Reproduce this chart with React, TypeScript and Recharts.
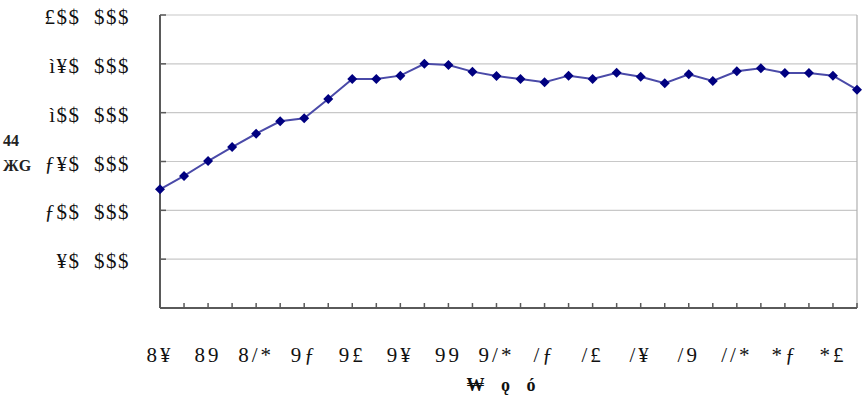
import { LineChart, Line, XAxis, YAxis, CartesianGrid, ReferenceLine } from 'recharts'

// 30 points, every other one labelled on the x axis
const xLabels = ['8¥', '89', '8/*', '9ƒ', '9£', '9¥', '99', '9/*', '/ƒ', '/£', '/¥', '/9', '//*', '*ƒ', '*£']
const values = [
  121500, 135200, 150500, 164800, 178500, 191200, 194200, 214000, 234500, 234500,
  237900, 250100, 248800, 242000, 237500, 234500, 231100, 237900, 234500, 240900,
  236800, 230100, 239300, 232400, 242400, 245400, 240600, 240600, 237900, 223500,
]
const yTicks = [0, 50000, 100000, 150000, 200000, 250000, 300000]
const yLabels = ['', '¥$  $$$', 'ƒ$$  $$$', 'ƒ¥$  $$$', 'ì$$  $$$', 'ì¥$  $$$', '£$$  $$$']
const yTitle = ['44', 'ЖG']
const xTitle = '₩ ǫ ó'

const data = values.map((v, i) => ({ slot: i, value: v }))
const slots = values.map((_, i) => i)

const FONT = '"Liberation Serif", "Times New Roman", serif'
const AXIS = '#5a5a5a'

const XTick = (props: any) => {
  const { x, y, payload } = props
  const i = payload.value as number
  const label = i % 2 === 0 ? xLabels[i / 2] : ''
  return (
    <g>
      <line x1={x} y1={y} x2={x} y2={y - 5} stroke={AXIS} strokeWidth={1.5} />
      {label && (
        <text x={x} y={y + 54} textAnchor="middle" fontFamily={FONT} fontSize={21} letterSpacing={3} fill="#111">
          {label}
        </text>
      )}
    </g>
  )
}

const YTick = (props: any) => {
  const { x, y, payload } = props
  const idx = yTicks.indexOf(payload.value)
  return (
    <g>
      <line x1={x} y1={y} x2={x + 6} y2={y} stroke={AXIS} strokeWidth={1.5} />
      <text x={x - 30} y={y + 9} textAnchor="end" fontFamily={FONT} fontSize={21} letterSpacing={1.5} fill="#111" style={{ whiteSpace: 'pre' }}>
        {yLabels[idx]}
      </text>
    </g>
  )
}

const Diamond = (props: any) => {
  const { cx, cy } = props
  const r = 5
  return <polygon points={`${cx},${cy - r} ${cx + r},${cy} ${cx},${cy + r} ${cx - r},${cy}`} fill="#000080" />
}

export default function App() {
  return (
    <div style={{ position: 'absolute', left: 0, top: 0, width: 866, height: 417, background: '#fff' }}>
      <LineChart width={866} height={417} data={data} margin={{ top: 15, right: 9, left: 0, bottom: 0 }}>
        <CartesianGrid vertical={false} stroke="#c8c8c8" strokeWidth={1.2} />
        <ReferenceLine x={slots[slots.length - 1]} stroke="#b0b0b0" strokeWidth={1.2} />
        <XAxis
          dataKey="slot"
          type="number"
          domain={[0, slots.length - 1]}
          ticks={slots}
          interval={0}
          height={109}
          tickSize={0}
          tickMargin={0}
          tick={<XTick />}
          axisLine={{ stroke: AXIS, strokeWidth: 2 }}
          label={{
            content: () => (
              <text x={504} y={391} textAnchor="middle" fontFamily={FONT} fontSize={18} fontWeight="bold" letterSpacing={6} fill="#111">
                {xTitle}
              </text>
            ),
          }}
        />
        <YAxis
          width={160}
          domain={[0, 300000]}
          ticks={yTicks}
          interval={0}
          tickSize={0}
          tickMargin={0}
          tick={<YTick />}
          axisLine={{ stroke: AXIS, strokeWidth: 2 }}
          label={{
            content: () => (
              <text fontFamily={FONT} fontSize={16} fontWeight="bold" fill="#222">
                <tspan x={3} y={146}>{yTitle[0]}</tspan>
                <tspan x={3} y={171}>{yTitle[1]}</tspan>
              </text>
            ),
          }}
        />
        <Line
          dataKey="value"
          stroke="#4a4aa8"
          strokeWidth={2}
          dot={<Diamond />}
          activeDot={false}
          isAnimationActive={false}
        />
      </LineChart>
    </div>
  )
}
